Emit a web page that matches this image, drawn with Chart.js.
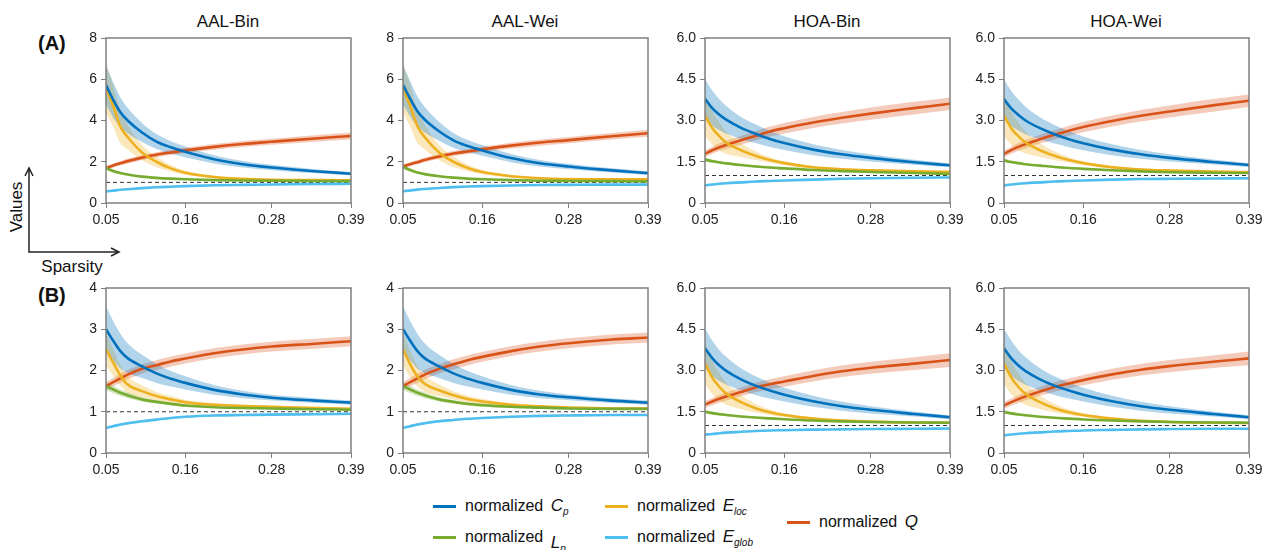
<!DOCTYPE html>
<html>
<head>
<meta charset="utf-8">
<script src="https://cdn.jsdelivr.net/npm/chart.js@4.4.1/dist/chart.umd.min.js"></script>
<style>
  body { margin: 0; background: #fff; font-family: 'Liberation Sans', Arial, sans-serif; color: #111; }
  #page { position: relative; width: 1263px; height: 550px; overflow: hidden; }
  .box { position: absolute; }
  .ttl { position: absolute; top: 12px; font-size: 17px; line-height: 20px; transform: translateX(-50%); white-space: nowrap; }
  .tag { position: absolute; left: 38px; font-size: 20px; font-weight: bold; line-height: 24px; }
  .lab { position: absolute; font-size: 17px; line-height: 20px; white-space: nowrap; transform: translate(-50%, -50%); }
  .leg { position: absolute; height: 20px; }
  .leg .ln { position: absolute; left: 0; top: 9px; width: 23px; height: 3px; }
  .leg .tx { position: absolute; left: 32px; top: 0; font-size: 16px; line-height: 20px; white-space: nowrap; }
  .leg i { font-size: 17px; margin-left: 3px; }
  .leg sub { font-size: 10px; font-style: italic; vertical-align: -4px; }
</style>
</head>
<body>
<div id="page">
  <div class="ttl" style="left:228px">AAL-Bin</div>
  <div class="ttl" style="left:525px">AAL-Wei</div>
  <div class="ttl" style="left:827px">HOA-Bin</div>
  <div class="ttl" style="left:1126px">HOA-Wei</div>
  <div class="tag" style="top:31px">(A)</div>
  <div class="tag" style="top:283px">(B)</div>
  <svg class="box" style="left:0;top:0" width="130" height="270">
    <path d="M29 168 L29 252 L119 252" fill="none" stroke="#222" stroke-width="1.5"/>
    <path d="M25 176 L29 168 L33 176 M111 248 L119 252 L111 256" fill="none" stroke="#222" stroke-width="1.5"/>
  </svg>
  <div class="lab" style="left:17px;top:207px;transform:translate(-50%,-50%) rotate(-90deg)">Values</div>
  <div class="lab" style="left:72px;top:267px">Sparsity</div>

  <div class="leg" style="left:433px;top:496px"><div class="ln" style="background:#0072BD"></div><div class="tx">normalized <i>C</i><sub>p</sub></div></div>
  <div class="leg" style="left:433px;top:527px"><div class="ln" style="background:#77AC30"></div><div class="tx">normalized <i style="position:relative;top:6px">L</i><sub style="position:relative;top:6px">p</sub></div></div>
  <div class="leg" style="left:605px;top:496px"><div class="ln" style="background:#EDB120"></div><div class="tx">normalized <i>E</i><sub>loc</sub></div></div>
  <div class="leg" style="left:605px;top:527px"><div class="ln" style="background:#4DBEEE"></div><div class="tx">normalized <i>E</i><sub>glob</sub></div></div>
  <div class="leg" style="left:787px;top:512px"><div class="ln" style="background:#D95319"></div><div class="tx">normalized <i>Q</i></div></div>
</div>
<script>
// sparsity levels (x) and x tick labels
const sparsity = [0.05, 0.06, 0.07, 0.08, 0.10, 0.12, 0.14, 0.16, 0.20, 0.24, 0.28, 0.34, 0.39];
const xTicks = [0.05, 0.16, 0.28, 0.39];

// (A) AAL-Bin
const A_AAL_Bin_Cp    = [5.72, 5.00, 4.40, 4.00, 3.42, 2.98, 2.70, 2.48, 2.12, 1.88, 1.72, 1.54, 1.42];
const A_AAL_Bin_Lp    = [1.70, 1.55, 1.45, 1.38, 1.28, 1.22, 1.18, 1.15, 1.11, 1.09, 1.08, 1.07, 1.06];
const A_AAL_Bin_Eloc  = [5.55, 4.70, 3.70, 3.20, 2.45, 2.00, 1.68, 1.47, 1.26, 1.17, 1.13, 1.11, 1.10];
const A_AAL_Bin_Eglob = [0.56, 0.60, 0.64, 0.67, 0.72, 0.76, 0.79, 0.82, 0.86, 0.88, 0.90, 0.92, 0.93];
const A_AAL_Bin_Q     = [1.70, 1.82, 1.93, 2.03, 2.20, 2.34, 2.45, 2.55, 2.72, 2.86, 2.97, 3.13, 3.25];
// (A) AAL-Wei
const A_AAL_Wei_Cp    = [5.73, 5.05, 4.45, 4.05, 3.48, 3.04, 2.76, 2.55, 2.18, 1.93, 1.77, 1.58, 1.45];
const A_AAL_Wei_Lp    = [1.75, 1.60, 1.48, 1.40, 1.30, 1.23, 1.18, 1.15, 1.11, 1.08, 1.07, 1.06, 1.05];
const A_AAL_Wei_Eloc  = [5.57, 4.70, 3.72, 3.20, 2.45, 2.00, 1.70, 1.50, 1.30, 1.20, 1.16, 1.15, 1.15];
const A_AAL_Wei_Eglob = [0.57, 0.61, 0.65, 0.68, 0.73, 0.77, 0.80, 0.82, 0.85, 0.87, 0.88, 0.89, 0.89];
const A_AAL_Wei_Q     = [1.77, 1.88, 1.98, 2.08, 2.25, 2.40, 2.50, 2.60, 2.78, 2.93, 3.05, 3.24, 3.38];
// (A) HOA-Bin
const A_HOA_Bin_Cp    = [3.79, 3.45, 3.21, 3.02, 2.73, 2.52, 2.33, 2.18, 1.94, 1.77, 1.64, 1.48, 1.37];
const A_HOA_Bin_Lp    = [1.58, 1.52, 1.48, 1.44, 1.38, 1.33, 1.29, 1.26, 1.20, 1.16, 1.13, 1.09, 1.06];
const A_HOA_Bin_Eloc  = [3.18, 2.73, 2.42, 2.18, 1.92, 1.72, 1.56, 1.45, 1.30, 1.23, 1.19, 1.15, 1.13];
const A_HOA_Bin_Eglob = [0.64, 0.67, 0.70, 0.72, 0.75, 0.78, 0.80, 0.82, 0.85, 0.88, 0.90, 0.92, 0.93];
const A_HOA_Bin_Q     = [1.79, 1.92, 2.03, 2.12, 2.28, 2.44, 2.60, 2.72, 2.93, 3.10, 3.25, 3.45, 3.61];
// (A) HOA-Wei
const A_HOA_Wei_Cp    = [3.78, 3.44, 3.20, 3.00, 2.72, 2.50, 2.32, 2.17, 1.94, 1.77, 1.64, 1.49, 1.38];
const A_HOA_Wei_Lp    = [1.55, 1.49, 1.45, 1.41, 1.36, 1.31, 1.27, 1.24, 1.19, 1.15, 1.12, 1.10, 1.09];
const A_HOA_Wei_Eloc  = [3.18, 2.72, 2.42, 2.20, 1.92, 1.72, 1.56, 1.45, 1.30, 1.22, 1.18, 1.14, 1.12];
const A_HOA_Wei_Eglob = [0.64, 0.67, 0.70, 0.72, 0.75, 0.78, 0.80, 0.82, 0.85, 0.87, 0.88, 0.89, 0.90];
const A_HOA_Wei_Q     = [1.79, 1.92, 2.04, 2.14, 2.32, 2.48, 2.63, 2.76, 2.98, 3.17, 3.33, 3.55, 3.72];
// (B) AAL-Bin
const B_AAL_Bin_Cp    = [3.00, 2.72, 2.47, 2.30, 2.10, 1.93, 1.80, 1.70, 1.53, 1.42, 1.34, 1.27, 1.22];
const B_AAL_Bin_Lp    = [1.62, 1.54, 1.46, 1.40, 1.30, 1.24, 1.19, 1.15, 1.11, 1.09, 1.08, 1.06, 1.05];
const B_AAL_Bin_Eloc  = [2.52, 2.19, 1.88, 1.66, 1.50, 1.38, 1.30, 1.23, 1.17, 1.14, 1.12, 1.09, 1.07];
const B_AAL_Bin_Eglob = [0.61, 0.65, 0.69, 0.72, 0.77, 0.81, 0.85, 0.88, 0.91, 0.92, 0.93, 0.94, 0.95];
const B_AAL_Bin_Q     = [1.62, 1.72, 1.81, 1.90, 2.04, 2.13, 2.22, 2.29, 2.42, 2.51, 2.58, 2.65, 2.71];
// (B) AAL-Wei
const B_AAL_Wei_Cp    = [3.00, 2.72, 2.47, 2.30, 2.10, 1.93, 1.80, 1.70, 1.53, 1.42, 1.35, 1.27, 1.22];
const B_AAL_Wei_Lp    = [1.62, 1.54, 1.46, 1.40, 1.30, 1.24, 1.19, 1.16, 1.12, 1.10, 1.08, 1.07, 1.07];
const B_AAL_Wei_Eloc  = [2.52, 2.15, 1.86, 1.68, 1.52, 1.40, 1.31, 1.25, 1.17, 1.13, 1.10, 1.08, 1.08];
const B_AAL_Wei_Eglob = [0.61, 0.65, 0.69, 0.72, 0.77, 0.80, 0.83, 0.85, 0.88, 0.90, 0.91, 0.92, 0.92];
const B_AAL_Wei_Q     = [1.62, 1.72, 1.81, 1.90, 2.04, 2.15, 2.25, 2.33, 2.47, 2.58, 2.66, 2.75, 2.80];
// (B) HOA-Bin
const B_HOA_Bin_Cp    = [3.81, 3.45, 3.18, 2.98, 2.68, 2.45, 2.27, 2.12, 1.88, 1.70, 1.57, 1.42, 1.30];
const B_HOA_Bin_Lp    = [1.50, 1.45, 1.41, 1.38, 1.33, 1.29, 1.26, 1.23, 1.18, 1.15, 1.13, 1.11, 1.10];
const B_HOA_Bin_Eloc  = [3.26, 2.75, 2.40, 2.15, 1.85, 1.63, 1.48, 1.38, 1.25, 1.18, 1.14, 1.11, 1.10];
const B_HOA_Bin_Eglob = [0.67, 0.69, 0.72, 0.74, 0.77, 0.80, 0.82, 0.83, 0.85, 0.86, 0.87, 0.88, 0.89];
const B_HOA_Bin_Q     = [1.76, 1.87, 1.97, 2.06, 2.22, 2.38, 2.50, 2.60, 2.80, 2.97, 3.10, 3.25, 3.38];
// (B) HOA-Wei
const B_HOA_Wei_Cp    = [3.80, 3.45, 3.18, 2.98, 2.68, 2.45, 2.27, 2.12, 1.88, 1.70, 1.57, 1.42, 1.30];
const B_HOA_Wei_Lp    = [1.49, 1.44, 1.40, 1.37, 1.32, 1.28, 1.25, 1.22, 1.18, 1.15, 1.13, 1.11, 1.10];
const B_HOA_Wei_Eloc  = [3.26, 2.75, 2.40, 2.15, 1.85, 1.63, 1.48, 1.38, 1.25, 1.17, 1.13, 1.10, 1.09];
const B_HOA_Wei_Eglob = [0.64, 0.67, 0.70, 0.72, 0.75, 0.78, 0.80, 0.82, 0.84, 0.86, 0.87, 0.88, 0.88];
const B_HOA_Wei_Q     = [1.73, 1.85, 1.96, 2.06, 2.24, 2.40, 2.53, 2.65, 2.86, 3.03, 3.16, 3.32, 3.44];

// shaded band half widths (shared by Bin / Wei of the same atlas)
const A_AAL_CpSd    = [0.95, 0.85, 0.72, 0.62, 0.46, 0.36, 0.30, 0.26, 0.20, 0.16, 0.13, 0.10, 0.08];
const A_AAL_LpSd    = [0.10, 0.08, 0.06, 0.05, 0.04, 0.03, 0.03, 0.02, 0.02, 0.02, 0.02, 0.02, 0.02];
const A_AAL_ElocSd  = [1.20, 1.00, 0.80, 0.60, 0.38, 0.25, 0.16, 0.10, 0.06, 0.04, 0.03, 0.03, 0.03];
const A_AAL_EglobSd = [0.04, 0.04, 0.03, 0.03, 0.03, 0.03, 0.03, 0.02, 0.02, 0.02, 0.02, 0.02, 0.02];
const A_AAL_QSd     = [0.10, 0.10, 0.10, 0.11, 0.11, 0.12, 0.12, 0.13, 0.14, 0.15, 0.15, 0.16, 0.17];
const A_HOA_CpSd    = [0.72, 0.64, 0.56, 0.50, 0.40, 0.34, 0.29, 0.25, 0.20, 0.16, 0.13, 0.09, 0.07];
const A_HOA_LpSd    = [0.07, 0.06, 0.05, 0.04, 0.03, 0.03, 0.03, 0.02, 0.02, 0.02, 0.02, 0.02, 0.02];
const A_HOA_ElocSd  = [0.75, 0.60, 0.50, 0.40, 0.25, 0.16, 0.10, 0.07, 0.05, 0.04, 0.04, 0.04, 0.04];
const A_HOA_EglobSd = [0.03, 0.03, 0.03, 0.03, 0.03, 0.03, 0.03, 0.02, 0.02, 0.02, 0.02, 0.02, 0.02];
const A_HOA_QSd     = [0.12, 0.13, 0.14, 0.15, 0.16, 0.17, 0.18, 0.19, 0.20, 0.21, 0.22, 0.23, 0.23];
const B_AAL_CpSd    = [0.55, 0.48, 0.42, 0.36, 0.28, 0.23, 0.19, 0.16, 0.12, 0.09, 0.07, 0.06, 0.05];
const B_AAL_LpSd    = [0.10, 0.09, 0.08, 0.07, 0.05, 0.04, 0.03, 0.03, 0.02, 0.02, 0.02, 0.02, 0.02];
const B_AAL_ElocSd  = [0.40, 0.32, 0.25, 0.20, 0.14, 0.10, 0.08, 0.06, 0.04, 0.03, 0.03, 0.03, 0.03];
const B_AAL_EglobSd = [0.03, 0.03, 0.03, 0.03, 0.03, 0.02, 0.02, 0.02, 0.02, 0.02, 0.02, 0.02, 0.02];
const B_AAL_QSd     = [0.10, 0.10, 0.11, 0.11, 0.11, 0.12, 0.12, 0.12, 0.12, 0.12, 0.12, 0.12, 0.12];
const B_HOA_CpSd    = [0.72, 0.64, 0.56, 0.50, 0.40, 0.34, 0.29, 0.25, 0.20, 0.16, 0.13, 0.09, 0.07];
const B_HOA_LpSd    = [0.07, 0.06, 0.05, 0.04, 0.03, 0.03, 0.03, 0.02, 0.02, 0.02, 0.02, 0.02, 0.02];
const B_HOA_ElocSd  = [0.75, 0.60, 0.50, 0.40, 0.25, 0.16, 0.10, 0.07, 0.05, 0.04, 0.04, 0.04, 0.04];
const B_HOA_EglobSd = [0.03, 0.03, 0.03, 0.03, 0.03, 0.03, 0.03, 0.02, 0.02, 0.02, 0.02, 0.02, 0.02];
const B_HOA_QSd     = [0.12, 0.13, 0.14, 0.15, 0.16, 0.17, 0.18, 0.19, 0.20, 0.21, 0.22, 0.23, 0.25];

const lineColors = ['#0072BD', '#77AC30', '#EDB120', '#4DBEEE', '#D95319'];
const bandColors = ['rgba(0,114,189,0.3)', 'rgba(119,172,48,0.3)', 'rgba(237,177,32,0.3)', 'rgba(77,190,238,0.3)', 'rgba(217,83,25,0.3)'];

const AXW = 44, AXH = 32, PADT = 10, PADR = 18, PW = 245, PH = 165;

const aalA = { yMax: 8, yStep: 2, dec: 0 };
const aalB = { yMax: 4, yStep: 1, dec: 0 };
const hoa = { yMax: 6, yStep: 1.5, dec: 1 };

const panels = [
  { left: 106, top: 38, y: aalA, mean: [A_AAL_Bin_Cp, A_AAL_Bin_Lp, A_AAL_Bin_Eloc, A_AAL_Bin_Eglob, A_AAL_Bin_Q], sd: [A_AAL_CpSd, A_AAL_LpSd, A_AAL_ElocSd, A_AAL_EglobSd, A_AAL_QSd] },
  { left: 403, top: 38, y: aalA, mean: [A_AAL_Wei_Cp, A_AAL_Wei_Lp, A_AAL_Wei_Eloc, A_AAL_Wei_Eglob, A_AAL_Wei_Q], sd: [A_AAL_CpSd, A_AAL_LpSd, A_AAL_ElocSd, A_AAL_EglobSd, A_AAL_QSd] },
  { left: 705, top: 38, y: hoa, mean: [A_HOA_Bin_Cp, A_HOA_Bin_Lp, A_HOA_Bin_Eloc, A_HOA_Bin_Eglob, A_HOA_Bin_Q], sd: [A_HOA_CpSd, A_HOA_LpSd, A_HOA_ElocSd, A_HOA_EglobSd, A_HOA_QSd] },
  { left: 1004, top: 38, y: hoa, mean: [A_HOA_Wei_Cp, A_HOA_Wei_Lp, A_HOA_Wei_Eloc, A_HOA_Wei_Eglob, A_HOA_Wei_Q], sd: [A_HOA_CpSd, A_HOA_LpSd, A_HOA_ElocSd, A_HOA_EglobSd, A_HOA_QSd] },
  { left: 106, top: 288, y: aalB, mean: [B_AAL_Bin_Cp, B_AAL_Bin_Lp, B_AAL_Bin_Eloc, B_AAL_Bin_Eglob, B_AAL_Bin_Q], sd: [B_AAL_CpSd, B_AAL_LpSd, B_AAL_ElocSd, B_AAL_EglobSd, B_AAL_QSd] },
  { left: 403, top: 288, y: aalB, mean: [B_AAL_Wei_Cp, B_AAL_Wei_Lp, B_AAL_Wei_Eloc, B_AAL_Wei_Eglob, B_AAL_Wei_Q], sd: [B_AAL_CpSd, B_AAL_LpSd, B_AAL_ElocSd, B_AAL_EglobSd, B_AAL_QSd] },
  { left: 705, top: 288, y: hoa, mean: [B_HOA_Bin_Cp, B_HOA_Bin_Lp, B_HOA_Bin_Eloc, B_HOA_Bin_Eglob, B_HOA_Bin_Q], sd: [B_HOA_CpSd, B_HOA_LpSd, B_HOA_ElocSd, B_HOA_EglobSd, B_HOA_QSd] },
  { left: 1004, top: 288, y: hoa, mean: [B_HOA_Wei_Cp, B_HOA_Wei_Lp, B_HOA_Wei_Eloc, B_HOA_Wei_Eglob, B_HOA_Wei_Q], sd: [B_HOA_CpSd, B_HOA_LpSd, B_HOA_ElocSd, B_HOA_EglobSd, B_HOA_QSd] }
];

Chart.defaults.font.family = "'Liberation Sans', Arial, sans-serif";
Chart.defaults.font.size = 14;
Chart.defaults.color = '#222';

// box around the plot area
const frame = {
  id: 'frame',
  afterDatasetsDraw(chart) {
    const { ctx, chartArea: a } = chart;
    ctx.save();
    ctx.strokeStyle = '#7f7f7f';
    ctx.lineWidth = 1.5;
    ctx.strokeRect(a.left, a.top, a.right - a.left, a.bottom - a.top);
    ctx.restore();
  }
};

function makePanel(p) {
  const wrap = document.createElement('div');
  wrap.className = 'box';
  const W = AXW + PW + PADR, H = PADT + PH + AXH;
  wrap.style.left = (p.left - AXW) + 'px';
  wrap.style.top = (p.top - PADT) + 'px';
  const cv = document.createElement('canvas');
  cv.width = W; cv.height = H;
  wrap.appendChild(cv);
  document.getElementById('page').appendChild(wrap);

  const datasets = [];
  // lines (first index ends up on top)
  p.mean.forEach((m, k) => {
    datasets.push({
      data: sparsity.map((x, i) => ({ x: x, y: m[i] })),
      borderColor: lineColors[k], borderWidth: 2.6, pointRadius: 0,
      cubicInterpolationMode: 'monotone', fill: false
    });
  });
  // reference line at 1
  datasets.push({
    data: [{ x: 0.05, y: 1 }, { x: 0.39, y: 1 }],
    borderColor: '#333', borderWidth: 1, borderDash: [4, 3], pointRadius: 0, fill: false
  });
  // bands: upper, then lower filled to previous
  p.mean.forEach((m, k) => {
    const sd = p.sd[k];
    datasets.push({
      data: sparsity.map((x, i) => ({ x: x, y: m[i] + sd[i] })),
      borderWidth: 0, pointRadius: 0, cubicInterpolationMode: 'monotone', fill: false
    });
    datasets.push({
      data: sparsity.map((x, i) => ({ x: x, y: m[i] - sd[i] })),
      borderWidth: 0, pointRadius: 0, cubicInterpolationMode: 'monotone',
      fill: '-1', backgroundColor: bandColors[k]
    });
  });

  new Chart(cv, {
    type: 'line',
    data: { datasets: datasets },
    options: {
      responsive: false,
      animation: false,
      events: [],
      layout: { padding: { top: PADT, right: PADR, left: 0, bottom: 0 } },
      plugins: {
        legend: { display: false },
        tooltip: { enabled: false },
        filler: { drawTime: 'beforeDatasetsDraw' }
      },
      scales: {
        x: {
          type: 'linear', min: 0.05, max: 0.39,
          afterBuildTicks: s => { s.ticks = xTicks.map(v => ({ value: v })); },
          afterFit: s => { s.height = AXH; s.paddingLeft = 0; s.paddingRight = 0; },
          ticks: { callback: v => v.toFixed(2), maxRotation: 0, autoSkip: false, padding: 4 },
          grid: { drawOnChartArea: false, drawTicks: true, tickLength: 5, color: '#7f7f7f' },
          border: { display: false }
        },
        y: {
          min: 0, max: p.y.yMax,
          afterFit: s => { s.width = AXW; s.paddingTop = 0; s.paddingBottom = 0; },
          ticks: {
            stepSize: p.y.yStep, padding: 4,
            callback: v => (p.y.dec && v !== 0) ? v.toFixed(1) : String(v)
          },
          grid: { drawOnChartArea: false, drawTicks: true, tickLength: 5, color: '#7f7f7f' },
          border: { display: false }
        }
      }
    },
    plugins: [frame]
  });
}

panels.forEach(makePanel);
</script>
</body>
</html>
